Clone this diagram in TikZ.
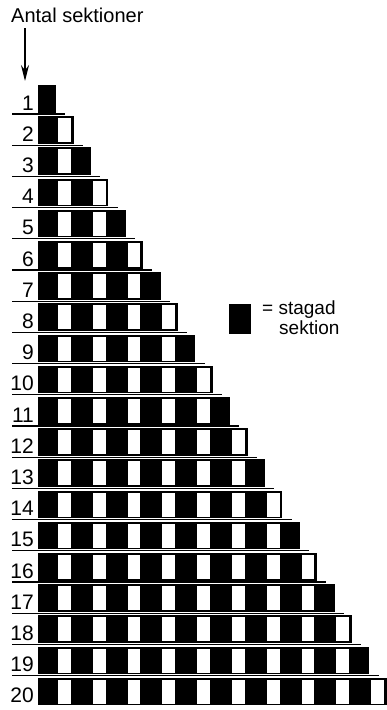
\documentclass[tikz,border=0pt]{standalone}
\usepackage{fontspec}
\setmainfont{Liberation Sans}
\usetikzlibrary{arrows.meta}
\begin{document}
\begin{tikzpicture}[x=1pt,y=-1pt,
  lbl/.style={anchor=base east,inner sep=0pt,font=\fontsize{21}{21}\selectfont},
  txt/.style={anchor=base west,inner sep=0pt,font=\fontsize{20}{20}\selectfont},
  legtxt/.style={anchor=base west,inner sep=0pt,font=\fontsize{19}{19}\selectfont},
  blk/.style={fill=black,draw=black,line width=0.6pt},
  wht/.style={fill=white,draw=black,line width=0.5pt},
  sep/.style={line width=1.1pt}]
\useasboundingbox (0,0) rectangle (386,710);
\node[txt] (title) at (11,22) {Antal sektioner};
\coordinate (arrtop) at (25,28);
\coordinate (arrbot) at (25,81);
\draw[line width=1.4pt,-{Stealth[length=16pt,width=8pt]}] (arrtop) -- (arrbot);
\foreach \n in {1,...,20} {
  \pgfmathsetmacro\bot{114+(\n-1)*31.2}
  \pgfmathsetmacro\tp{\bot-31.2+2.4}
  \pgfmathsetmacro\bb{\bot-2.2}
  \pgfmathsetmacro\xr{38+\n*17.4}
  \path[blk] (38,\tp) rectangle (\xr,\bb);
  \ifnum\n>1
  \foreach \k in {2,4,...,\n} {
    \ifnum\k>\n\else
    \pgfmathsetmacro\xa{38+(\k-1)*17.4+1.8}
    \pgfmathsetmacro\xb{38+\k*17.4-1.8}
    \path[wht] (\xa,\tp+1) rectangle (\xb,\bb-0.6);
    \fi
  }
  \fi
  \node[lbl] (row\n) at (34,\bot-4) {\n};
  \ifnum\n<20
    \pgfmathsetmacro\xe{38+\n*17.4+10}
    \draw[sep] (12,\bot) -- (\xe,\bot);
  \fi
}
\path[blk] (229,304) rectangle (250,333);
\node[legtxt] (leg1) at (262,314) {= stagad};
\node[legtxt] (leg2) at (279,334) {sektion};
\end{tikzpicture}
\end{document}
